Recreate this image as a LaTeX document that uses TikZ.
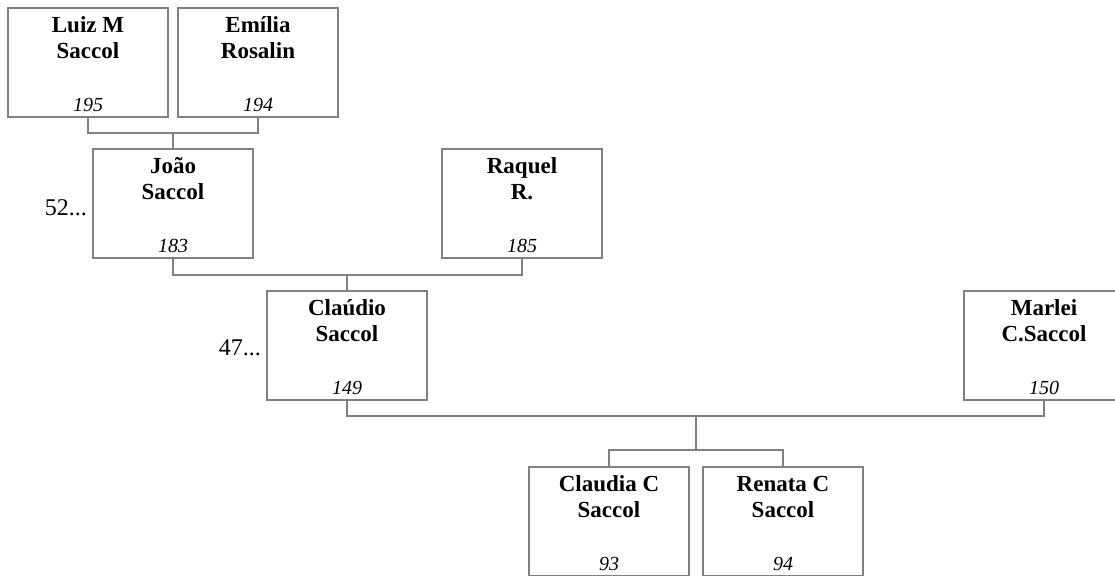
\documentclass[tikz,border=0pt]{standalone}
\usepackage{fontspec}
\setmainfont{Liberation Serif}
\usetikzlibrary{calc}
\begin{document}
\begin{tikzpicture}[x=1pt,y=-1pt,
  personbox/.style={draw=black!50,line width=1.2pt,fill=white,rectangle,minimum width=160pt,minimum height=109pt,inner sep=0pt,outer sep=0pt,anchor=north west},
  nameline/.style={font=\fontsize{23}{26}\selectfont\bfseries,anchor=base,inner sep=0pt},
  numline/.style={font=\fontsize{20}{22}\selectfont\itshape,anchor=base,inner sep=0pt},
  sideline/.style={font=\fontsize{24}{26}\selectfont,anchor=base east,inner sep=0pt},
  conn/.style={draw=black!50,line width=1.2pt}]
\useasboundingbox (0,0) rectangle (1115,575);
\clip (0,0) rectangle (1115,575);
\newcommand{\person}[6]{%
  \node[personbox] (#1) at (#2,#3) {};
  \node[nameline] (#1-a) at ([yshift=-24.5pt]#1.north) {#4};
  \node[nameline] (#1-b) at ([yshift=-50.5pt]#1.north) {#5};
  \node[numline] (#1-n) at ([yshift=-103.5pt]#1.north) {#6};}
\person{luiz}{8}{8}{Luiz M}{Saccol}{195}
\person{emilia}{178}{8}{Emília}{Rosalin}{194}
\person{joao}{93}{149}{João}{Saccol}{183}
\person{raquel}{442}{149}{Raquel}{R.}{185}
\person{claudio}{267}{291}{Claúdio}{Saccol}{149}
\person{marlei}{964}{291}{Marlei}{C.Saccol}{150}
\person{claudia}{529}{467}{Claudia C}{Saccol}{93}
\person{renata}{703}{467}{Renata C}{Saccol}{94}
\node[sideline] (joao-s) at (87,215) {52...};
\node[sideline] (claudio-s) at (261,355) {47...};
% connectors
\coordinate (m1) at ([yshift=16pt]joao.north);
\draw[conn] (luiz.south) |- (m1) -| (emilia.south);
\draw[conn] (m1) -- (joao.north);
\coordinate (m2) at ([yshift=16pt]claudio.north);
\draw[conn] (joao.south) |- (m2) -| (raquel.south);
\draw[conn] (m2) -- (claudio.north);
\coordinate (m4) at ($(claudia.north)!0.5!(renata.north)+(0,17pt)$);
\coordinate (m3) at ([yshift=34pt]m4);
\draw[conn] (claudio.south) |- (m3) -| (marlei.south);
\draw[conn] (m3) -- (m4);
\draw[conn] (claudia.north) |- (m4) -| (renata.north);
\end{tikzpicture}
\end{document}
